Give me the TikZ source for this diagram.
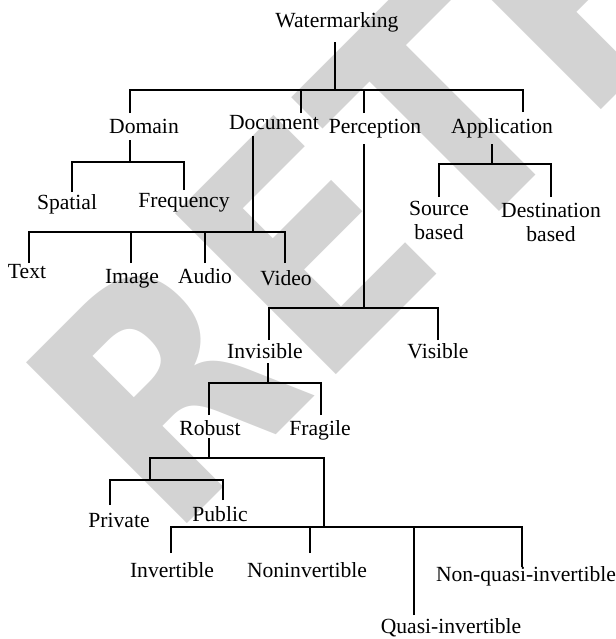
\documentclass[tikz,border=0pt]{standalone}
\usepackage{fontspec}
\setmainfont{Liberation Serif}
\newfontfamily\stempelfont{DejaVu Sans}[FakeStretch=0.88]
\definecolor{stempel}{HTML}{D3D3D3}
\tikzset{
  etykieta/.style={inner sep=0pt, anchor=base, font=\fontsize{10.8}{12}\selectfont},
  galaz/.style={line width=0.6pt, black},
}
\begin{document}
\begin{tikzpicture}[x=0.5pt, y=-0.5pt]
\useasboundingbox (0,0) rectangle (616,639);

% Stempel w tle
\begin{scope}
  \clip (0,0) rectangle (616,639);
  \node[rotate=45, anchor=base west, inner sep=0pt, text=stempel,
        font=\stempelfont\bfseries\fontsize{156}{156}\selectfont] (stamp) at (169,542) {RETRACTED};
\end{scope}

% Etykiety
\node[etykieta] (wm) at (337,27) {Watermarking};
\node[etykieta] (dom) at (144,133) {Domain};
\node[etykieta] (doc) at (274,129) {Document};
\node[etykieta] (per) at (375,133) {Perception};
\node[etykieta] (app) at (502,133) {Application};
\node[etykieta] (spa) at (67,209) {Spatial};
\node[etykieta] (fre) at (184,207) {Frequency};
\node[etykieta] (txt) at (27,278) {Text};
\node[etykieta] (img) at (132,283) {Image};
\node[etykieta] (aud) at (205,283) {Audio};
\node[etykieta] (vid) at (286,285) {Video};
\node[etykieta, anchor=north, align=center] (src) at (439,201) {Source\\based};
\node[etykieta, anchor=north, align=center] (dst) at (551,203) {Destination\\based};
\node[etykieta] (inv) at (265,358) {Invisible};
\node[etykieta] (vis) at (438,358) {Visible};
\node[etykieta] (rob) at (210,435) {Robust};
\node[etykieta] (fra) at (320,435) {Fragile};
\node[etykieta] (pri) at (119,527) {Private};
\node[etykieta] (pub) at (220,521) {Public};
\node[etykieta] (ivt) at (172,577) {Invertible};
\node[etykieta] (nin) at (307,577) {Noninvertible};
\node[etykieta] (nqi) at (526,581) {Non-quasi-invertible};
\node[etykieta] (qua) at (451,633) {Quasi-invertible};

% Punkty rozgalezien
\coordinate (wm-s) at (335,42);   \coordinate (wm-j) at (335,90);
\coordinate (dom-t) at (130,113); \coordinate (doc-t) at (301,113);
\coordinate (per-t) at (364,113); \coordinate (app-t) at (523,112);
\coordinate (dom-s) at (130,140); \coordinate (dom-j) at (130,162);
\coordinate (spa-t) at (72,192);  \coordinate (fre-t) at (184,190);
\coordinate (doc-s) at (253,136); \coordinate (doc-j) at (253,232);
\coordinate (txt-t) at (29,263);  \coordinate (img-t) at (131,263);
\coordinate (aud-t) at (205,263); \coordinate (vid-t) at (285,263);
\coordinate (per-s) at (364,144); \coordinate (per-j) at (364,308);
\coordinate (inv-t) at (269,340); \coordinate (vis-t) at (438,340);
\coordinate (app-s) at (492,144); \coordinate (app-j) at (492,164);
\coordinate (src-t) at (439,197); \coordinate (dst-t) at (551,197);
\coordinate (inv-s) at (268,363); \coordinate (inv-j) at (268,383);
\coordinate (rob-t) at (209,415); \coordinate (fra-t) at (321,415);
\coordinate (rob-s) at (209,438); \coordinate (rob-j) at (209,458);
\coordinate (key-j) at (150,480); \coordinate (kind-j) at (324,527);
\coordinate (pri-t) at (110,505); \coordinate (pub-t) at (223,500);
\coordinate (ivt-t) at (171,553); \coordinate (nin-t) at (310,553);
\coordinate (qua-t) at (414,615); \coordinate (nqi-t) at (522,567);

% Galezie drzewa
\draw[galaz] (wm-s) -- (wm-j);
\foreach \c in {dom,doc,per,app} \draw[galaz] (\c-t) |- (wm-j);
\draw[galaz] (dom-s) -- (dom-j);
\foreach \c in {spa,fre} \draw[galaz] (\c-t) |- (dom-j);
\draw[galaz] (doc-s) -- (doc-j);
\foreach \c in {txt,img,aud,vid} \draw[galaz] (\c-t) |- (doc-j);
\draw[galaz] (per-s) -- (per-j);
\foreach \c in {inv,vis} \draw[galaz] (\c-t) |- (per-j);
\draw[galaz] (app-s) -- (app-j);
\foreach \c in {src,dst} \draw[galaz] (\c-t) |- (app-j);
\draw[galaz] (inv-s) -- (inv-j);
\foreach \c in {rob,fra} \draw[galaz] (\c-t) |- (inv-j);
\draw[galaz] (rob-s) -- (rob-j);
\foreach \c in {key,kind} \draw[galaz] (\c-j) |- (rob-j);
\foreach \c in {pri,pub} \draw[galaz] (\c-t) |- (key-j);
\foreach \c in {ivt,nin,qua,nqi} \draw[galaz] (\c-t) |- (kind-j);
\end{tikzpicture}
\end{document}
